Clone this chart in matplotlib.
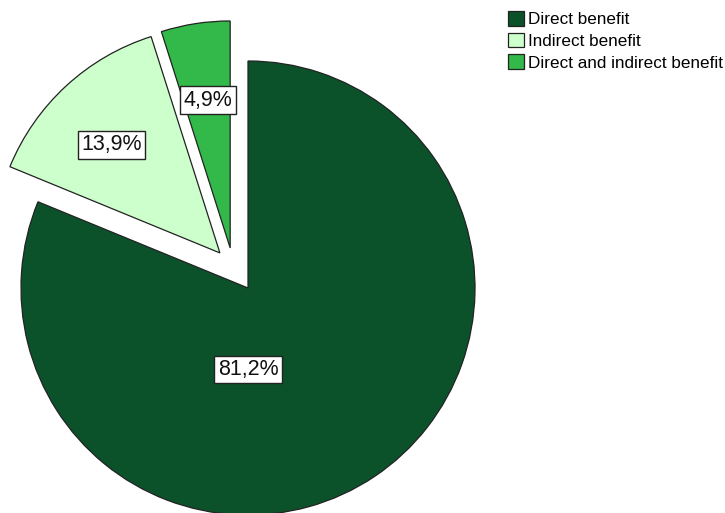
import matplotlib
matplotlib.use("Agg")
import matplotlib.pyplot as plt
import numpy as np

categories = ["Direct benefit", "Indirect benefit", "Direct and indirect benefit"]
values = [81.2, 13.9, 4.9]
labels = ["81,2%", "13,9%", "4,9%"]
colors = ["#0b522b", "#ccffcc", "#33b84a"]
explode_dist = [0.0, 0.198, 0.193]
explode_dir_deg = [0.0, 128.7, 114.0]

plt.rcParams['font.family'] = ['Liberation Sans', 'DejaVu Sans']

W, H = 725, 513
fig = plt.figure(figsize=(W / 100, H / 100), dpi=100)
ax = fig.add_axes([0, 0, 1, 1])
R = 227.0
cx, cy = 248.0, 288.0

wedges, _ = ax.pie(values, colors=colors, startangle=90,
                   counterclock=False, radius=1.0,
                   wedgeprops=dict(edgecolor="#222222", linewidth=0.9))
for w, d, a in zip(wedges, explode_dist, explode_dir_deg):
    t = np.deg2rad(a)
    w.set_center((d * np.cos(t), d * np.sin(t)))

ax.set_xlim(-cx / R, (W - cx) / R)
ax.set_ylim(-(H - cy) / R, cy / R)
ax.set_aspect('auto')
ax.axis('off')

label_pos = [(0.0, -0.36), (-0.60, 0.63), (-0.176, 0.828)]
for (x, y), t in zip(label_pos, labels):
    ax.text(x, y, t, ha='center', va='center', fontsize=15.5, color='#111111',
            bbox=dict(boxstyle='square,pad=0.15', facecolor='white',
                      edgecolor='#222222', linewidth=1.0))

fig.legend(wedges, categories, loc='upper left',
           bbox_to_anchor=(508 / W, 1 - 11 / H), frameon=False,
           fontsize=12.3, handlelength=0.95, handleheight=0.95,
           handletextpad=0.25, labelspacing=0.32, borderpad=0, borderaxespad=0)

fig.savefig("out.png", dpi=100)
